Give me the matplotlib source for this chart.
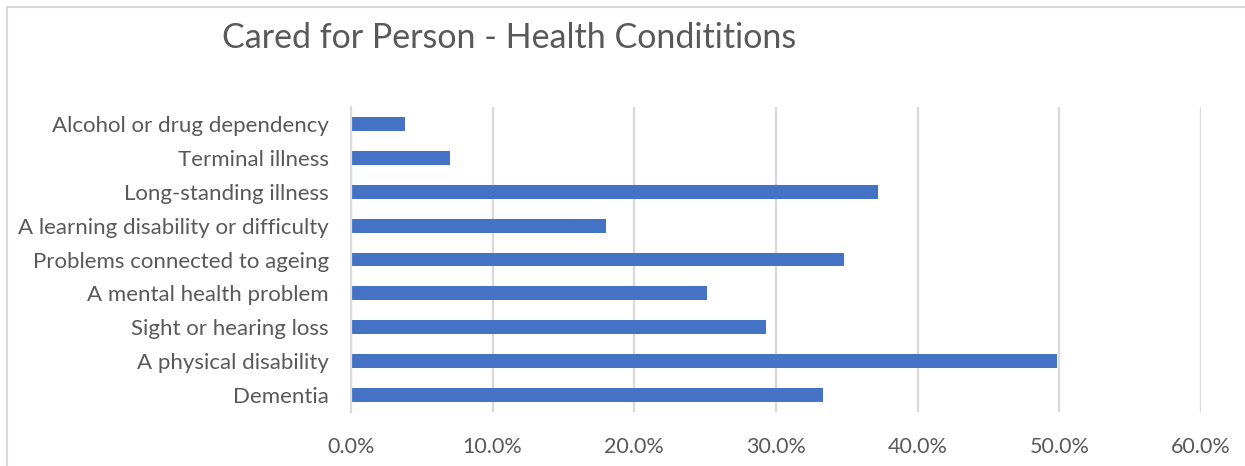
import matplotlib
matplotlib.use("Agg")
import matplotlib.pyplot as plt
from matplotlib.lines import Line2D
from matplotlib.ticker import FuncFormatter

# top to bottom as shown in the chart
conditions = [
    "Alcohol or drug dependency",
    "Terminal illness",
    "Long-standing illness",
    "A learning disability or difficulty",
    "Problems connected to ageing",
    "A mental health problem",
    "Sight or hearing loss",
    "A physical disability",
    "Dementia",
]
percent = [3.8, 7.0, 37.2, 18.0, 34.8, 25.1, 29.3, 49.8, 33.3]
xticks = [0, 10, 20, 30, 40, 50, 60]

plt.rcParams['font.family'] = ['Lato', 'DejaVu Sans']
txt = '#595959'
grid = '#D9D9D9'

fig = plt.figure(figsize=(12.45, 4.66), dpi=100)
ax = fig.add_axes([351/1245, 1 - 412/466, 850/1245, 305/466])

ypos = list(range(len(conditions)))[::-1]
ax.barh(ypos, percent, height=0.41, color='#4472C4', zorder=3)

ax.set_xlim(0, 60)
ax.set_ylim(-0.5, len(conditions) - 0.5)
ax.set_xticks(xticks)
ax.xaxis.set_major_formatter(FuncFormatter(lambda v, p: f"{v:.1f}%"))
ax.set_yticks(ypos)
ax.set_yticklabels(conditions)
ax.tick_params(axis='x', length=0, pad=18, labelsize=15.5, colors=txt)
ax.tick_params(axis='y', length=0, pad=16, labelsize=16, colors=txt)
ax.grid(axis='x', color=grid, linewidth=1.6, zorder=0)
for s in ['top', 'right', 'bottom']:
    ax.spines[s].set_visible(False)
ax.spines['left'].set_color(grid)
ax.spines['left'].set_linewidth(1.6)
ax.spines['left'].set_zorder(4)

fig.text(222/1245, 1 - 38/466, "Cared for Person - Health Condititions",
         fontsize=24.5, color=txt, ha='left', va='center')

# chart area border (top and left edges visible)
fig.add_artist(Line2D([7/1245, 1], [1 - 7/466, 1 - 7/466], color=grid, lw=1.5))
fig.add_artist(Line2D([7/1245, 7/1245], [0, 1 - 7/466], color=grid, lw=1.5))

fig.savefig("out.png", dpi=100)
